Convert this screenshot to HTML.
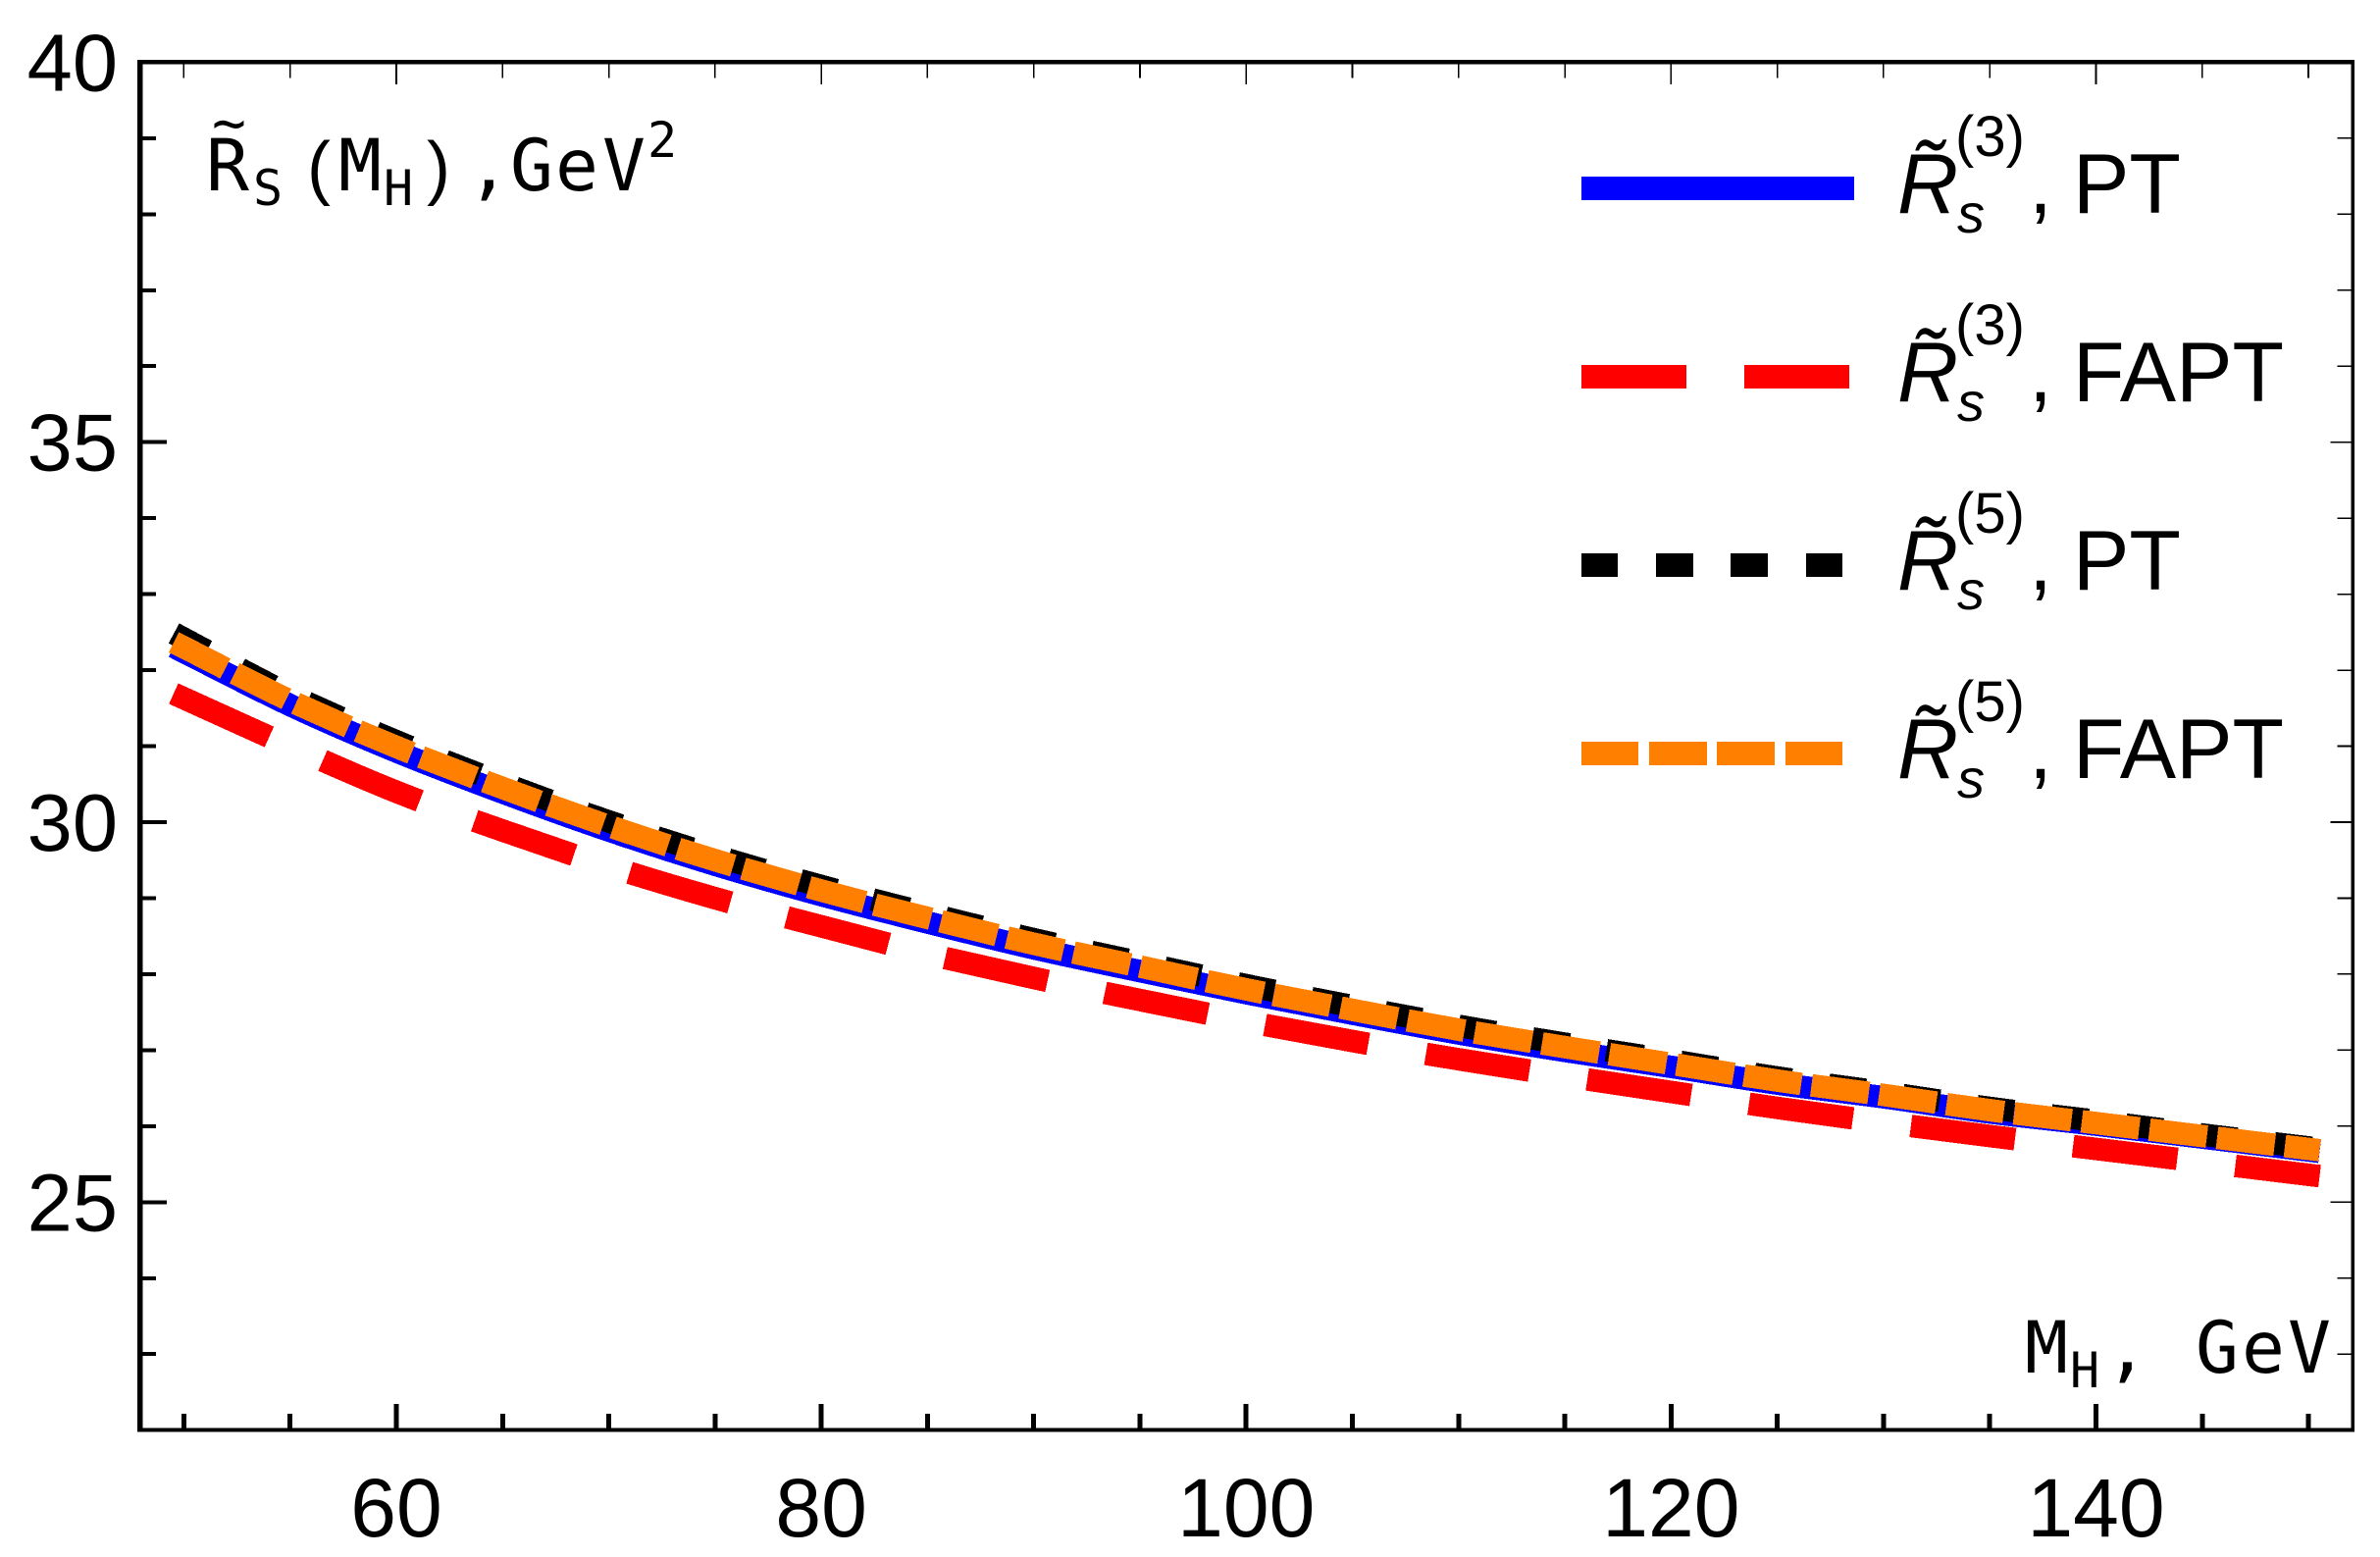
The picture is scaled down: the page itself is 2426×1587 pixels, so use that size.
<!DOCTYPE html>
<html lang="en">
<head>
<meta charset="utf-8">
<title>R̃s(MH) chart</title>
<style>
  html, body { margin: 0; padding: 0; background: #fff; }
  svg { display: block; }
  text { fill: #000; }
  .sans { font-family: "Liberation Sans", sans-serif; }
  .mono { font-family: "DejaVu Sans Mono", "Liberation Mono", monospace; }
  .lg { font-family: "Liberation Sans", sans-serif; font-size: 86px; }
  .it { font-style: italic; }
</style>
</head>
<body>
<svg id="chart" xmlns="http://www.w3.org/2000/svg" width="2426" height="1587" viewBox="0 0 2426 1587">
  <rect x="0" y="0" width="2426" height="1587" fill="#fff"/>
  <g id="series" shape-rendering="crispEdges"></g>
  <g id="ticks" shape-rendering="crispEdges"></g>
  <g shape-rendering="crispEdges">
    <rect x="140" y="61" width="2260" height="4.6" fill="#000"/>
    <rect x="140" y="1455.7" width="2260" height="4" fill="#000"/>
    <rect x="140" y="61" width="5.5" height="1398.7" fill="#000"/>
    <rect x="2396.4" y="61" width="3.4" height="1398.7" fill="#000"/>
  </g>
  <g id="tick-labels" class="sans" font-size="84"></g>

  <text class="mono" font-size="73"><tspan x="210" y="194">R</tspan><tspan x="258" y="209" font-size="50">S</tspan><tspan x="313" y="195" class="sans" font-size="72">(</tspan><tspan x="345" y="194">M</tspan><tspan x="391" y="209" font-size="50">H</tspan><tspan x="435" y="195" class="sans" font-size="72">)</tspan><tspan x="476" y="194">,</tspan><tspan x="520" y="194">G</tspan><tspan x="566" y="194">e</tspan><tspan x="614" y="194">V</tspan><tspan x="660" y="160" font-size="50">2</tspan></text>
  <text class="mono" font-size="58" x="216" y="145">~</text>

  <text class="mono" font-size="73"><tspan x="2064" y="1399">M</tspan><tspan x="2110" y="1414" font-size="50">H</tspan><tspan x="2146" y="1399">,</tspan><tspan x="2238" y="1399">G</tspan><tspan x="2285" y="1399">e</tspan><tspan x="2332" y="1399">V</tspan></text>

  <g>
    <g>
      <g fill="#0000ff" shape-rendering="crispEdges">
        <rect x="1612" y="180" width="278" height="24"/>
      </g>
      <text class="lg"><tspan class="it" x="1934" y="217">R</tspan><tspan class="it" x="1950" y="204">˜</tspan><tspan class="it" x="1995" y="237" font-size="56">s</tspan><tspan x="1993" y="159" font-size="58">(3)</tspan><tspan x="2068" y="217">,</tspan><tspan x="2113" y="217">PT</tspan></text>
    </g>
    <g transform="translate(0,192)">
      <g fill="#ff0000" shape-rendering="crispEdges">
        <rect x="1612" y="180" width="107" height="24"/>
        <rect x="1778" y="180" width="107" height="24"/>
      </g>
      <text class="lg"><tspan class="it" x="1934" y="217">R</tspan><tspan class="it" x="1950" y="204">˜</tspan><tspan class="it" x="1995" y="237" font-size="56">s</tspan><tspan x="1993" y="159" font-size="58">(3)</tspan><tspan x="2068" y="217">,</tspan><tspan x="2113" y="217">FAPT</tspan></text>
    </g>
    <g transform="translate(0,384)">
      <g fill="#000000" shape-rendering="crispEdges">
        <rect x="1612" y="180" width="37" height="24"/>
        <rect x="1688" y="180" width="38" height="24"/>
        <rect x="1764" y="180" width="38" height="24"/>
        <rect x="1841" y="180" width="37" height="24"/>
      </g>
      <text class="lg"><tspan class="it" x="1934" y="217">R</tspan><tspan class="it" x="1950" y="204">˜</tspan><tspan class="it" x="1995" y="237" font-size="56">s</tspan><tspan x="1993" y="159" font-size="58">(5)</tspan><tspan x="2068" y="217">,</tspan><tspan x="2113" y="217">PT</tspan></text>
    </g>
    <g transform="translate(0,576)">
      <g fill="#ff7f00" shape-rendering="crispEdges">
        <rect x="1612" y="180" width="58" height="24"/>
        <rect x="1681" y="180" width="59" height="24"/>
        <rect x="1750" y="180" width="59" height="24"/>
        <rect x="1820" y="180" width="58" height="24"/>
      </g>
      <text class="lg"><tspan class="it" x="1934" y="217">R</tspan><tspan class="it" x="1950" y="204">˜</tspan><tspan class="it" x="1995" y="237" font-size="56">s</tspan><tspan x="1993" y="159" font-size="58">(5)</tspan><tspan x="2068" y="217">,</tspan><tspan x="2113" y="217">FAPT</tspan></text>
    </g>
  </g>
</svg>

<script>
// Data
var higgsMass = [50, 55, 60, 65, 70, 75, 80, 85, 90, 95, 100, 105, 110, 115, 120, 125, 130, 135, 140, 145, 150];
var r3PT   = [32.24, 31.54, 30.93, 30.39, 29.89, 29.44, 29.04, 28.68, 28.34, 28.04, 27.75, 27.48, 27.22, 26.99, 26.78, 26.56, 26.38, 26.18, 26.02, 25.85, 25.68];
var r3FAPT = [31.63, 31.00, 30.40, 29.89, 29.42, 29.00, 28.63, 28.27, 27.95, 27.66, 27.38, 27.12, 26.88, 26.66, 26.45, 26.24, 26.05, 25.87, 25.70, 25.53, 25.36];
var r5PT   = [32.415, 31.68, 31.065, 30.515, 30.01, 29.56, 29.16, 28.80, 28.46, 28.155, 27.855, 27.58, 27.32, 27.085, 26.865, 26.64, 26.445, 26.24, 26.07, 25.89, 25.72];
var r5FAPT = [32.30, 31.60, 30.99, 30.45, 29.95, 29.50, 29.10, 28.74, 28.40, 28.10, 27.80, 27.53, 27.27, 27.04, 26.82, 26.60, 26.41, 26.21, 26.04, 25.87, 25.70];
var xTickValues = [50, 55, 60, 65, 70, 75, 80, 85, 90, 95, 100, 105, 110, 115, 120, 125, 130, 135, 140, 145, 150];
var xTickLabels = [60, 80, 100, 120, 140];
var yTickValues = [23, 24, 25, 26, 27, 28, 29, 30, 31, 32, 33, 34, 35, 36, 37, 38, 39];
var yTickLabels = [25, 30, 35, 40];

var NS = 'http://www.w3.org/2000/svg';

function xScale(v) { return 404 + (v - 60) * 21.656; }
function yScale(v) { return 1225.3 - (v - 25) * 77.46; }

function smoothPath(xs, ys) {
  var pts = xs.map(function (x, i) { return [xScale(x), yScale(ys[i])]; });
  var d = 'M' + pts[0][0] + ' ' + pts[0][1];
  for (var i = 0; i < pts.length - 1; i++) {
    var p0 = pts[Math.max(i - 1, 0)];
    var p1 = pts[i];
    var p2 = pts[i + 1];
    var p3 = pts[Math.min(i + 2, pts.length - 1)];
    var c1x = p1[0] + (p2[0] - p0[0]) / 6;
    var c1y = p1[1] + (p2[1] - p0[1]) / 6;
    var c2x = p2[0] - (p3[0] - p1[0]) / 6;
    var c2y = p2[1] - (p3[1] - p1[1]) / 6;
    d += ' C' + c1x + ' ' + c1y + ' ' + c2x + ' ' + c2y + ' ' + p2[0] + ' ' + p2[1];
  }
  return d;
}

var seriesLayer = document.getElementById('series');

function addSeries(values, name, color, dash) {
  var el = document.createElementNS(NS, 'path');
  
  
  el.setAttribute('d', smoothPath(higgsMass, values));
  el.setAttribute('fill', 'none');
  el.setAttribute('stroke', color);
  el.setAttribute('stroke-width', '23');
  el.setAttribute('stroke-linecap', 'square');
  if (dash) { el.setAttribute('stroke-dasharray', dash); }
  seriesLayer.appendChild(el);
}

addSeries(r3PT, 'series-r3-pt', '#0000ff', null);
addSeries(r3FAPT, 'series-r3-fapt', '#ff0000', '84 82.6');
addSeries(r5PT, 'series-r5-pt', '#000000', '15 61.4');
addSeries(r5FAPT, 'series-r5-fapt', '#ff7f00', '36 33.5');

var tickLayer = document.getElementById('ticks');

function addTick(x1, y1, x2, y2, width, name) {
  var el = document.createElementNS(NS, 'line');
  
  
  el.setAttribute('x1', x1);
  el.setAttribute('y1', y1);
  el.setAttribute('x2', x2);
  el.setAttribute('y2', y2);
  el.setAttribute('stroke', '#000');
  el.setAttribute('stroke-width', width);
  tickLayer.appendChild(el);
}

xTickValues.forEach(function (v) {
  var major = xTickLabels.indexOf(v) >= 0;
  var x = xScale(v);
  addTick(x, 1456, x, 1456 - (major ? 25 : 15), 5, 'x-tick-bottom-' + v);
  addTick(x, 65, x, 65 + (major ? 21 : 14.5), 1.6, 'x-tick-top-' + v);
});

yTickValues.forEach(function (v) {
  var major = yTickLabels.indexOf(v) >= 0;
  var y = yScale(v);
  addTick(145, y, 145 + (major ? 25 : 14), y, 4, 'y-tick-left-' + v);
  addTick(2397, y, 2397 - (major ? 21.5 : 14.5), y, 1.6, 'y-tick-right-' + v);
});

var labelLayer = document.getElementById('tick-labels');

xTickLabels.forEach(function (v) {
  var el = document.createElementNS(NS, 'text');
  
  
  el.setAttribute('x', xScale(v));
  el.setAttribute('y', 1566);
  el.setAttribute('text-anchor', 'middle');
  el.textContent = String(v);
  labelLayer.appendChild(el);
});

yTickLabels.forEach(function (v) {
  var el = document.createElementNS(NS, 'text');
  
  
  el.setAttribute('x', 120);
  el.setAttribute('y', yScale(v) + 29);
  el.setAttribute('text-anchor', 'end');
  el.setAttribute('font-size', '83');
  el.textContent = String(v);
  labelLayer.appendChild(el);
});
</script>
</body>
</html>
